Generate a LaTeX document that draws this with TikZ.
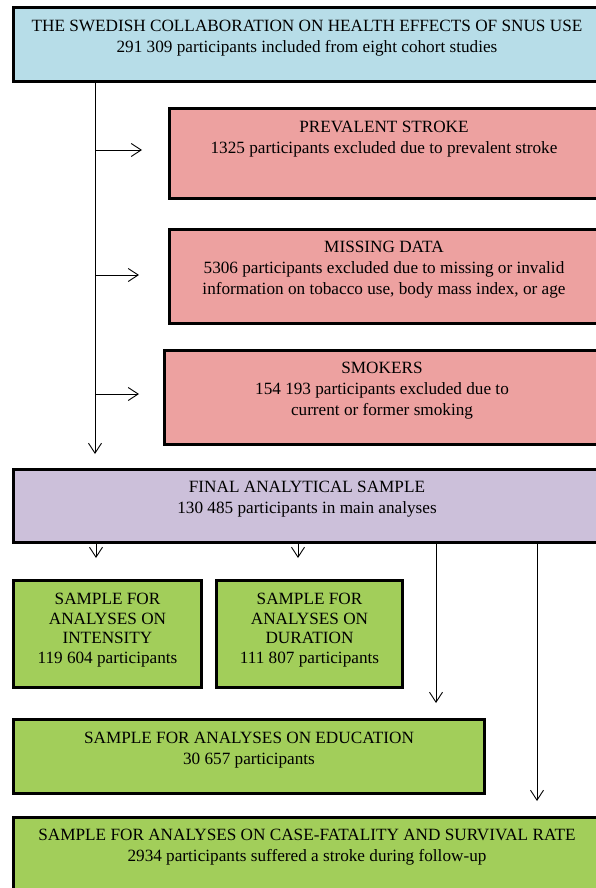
\documentclass[tikz,border=0pt]{standalone}
\usepackage{fontspec}
\setmainfont{Liberation Serif}
\usetikzlibrary{arrows.meta,positioning}
\definecolor{cblue}{HTML}{B7DDE8}
\definecolor{cpink}{HTML}{EDA1A0}
\definecolor{cpurple}{HTML}{CCC0DA}
\definecolor{cgreen}{HTML}{A2CE5A}
\tikzset{
  box/.style={draw=black, line width=3pt, inner sep=0pt, anchor=north west},
  lbl/.style={align=center, inner sep=0pt, anchor=north, font=\fontsize{17.2}{20.8}\selectfont},
  arr/.style={line width=0.9pt, -{Straight Barb[length=10pt,width=13pt]}},
}
\begin{document}
\begin{tikzpicture}[x=1pt,y=-1pt]
\useasboundingbox (0,0) rectangle (596,888);
\clip (0,0) rectangle (596,888);
\fill[white] (0,0) rectangle (596,888);

\node[box, fill=cblue, minimum width=640pt, minimum height=74pt] (top) at (12,6) {};
\node[box, fill=cpink, minimum width=480pt, minimum height=90pt] (prev) at (168,107) {};
\node[box, fill=cpink, minimum width=480pt, minimum height=94pt] (miss) at (168,228) {};
\node[box, fill=cpink, minimum width=480pt, minimum height=94pt] (smok) at (163,349) {};
\node[box, fill=cpurple, minimum width=640pt, minimum height=73pt] (final) at (12,468) {};
\node[box, fill=cgreen, minimum width=188pt, minimum height=107pt] (inten) at (12,579) {};
\node[box, fill=cgreen, minimum width=186pt, minimum height=107pt] (dura) at (215,579) {};
\node[box, fill=cgreen, minimum width=471pt, minimum height=74pt] (edu) at (12,718) {};
\node[box, fill=cgreen, minimum width=640pt, minimum height=100pt] (bot) at (12,816) {};

\node[lbl] (topt) at (top.north -| 307,0) [yshift=-14pt] {THE SWEDISH COLLABORATION ON HEALTH EFFECTS OF SNUS USE\\291 309 participants included from eight cohort studies};
\node[lbl] (prevt) at (prev.north -| 384,0) [yshift=-14pt] {PREVALENT STROKE\\1325 participants excluded due to prevalent stroke};
\node[lbl] (misst) at (miss.north -| 384,0) [yshift=-13pt] {MISSING DATA\\5306 participants excluded due to missing or invalid\\information on tobacco use, body mass index, or age};
\node[lbl] (smokt) at (smok.north -| 382,0) [yshift=-13pt] {SMOKERS\\154 193 participants excluded due to\\current or former smoking};
\node[lbl] (finalt) at (final.north -| 307,0) [yshift=-13pt] {FINAL ANALYTICAL SAMPLE\\130 485 participants in main analyses};
\node[lbl, font=\fontsize{17.2}{19.7}\selectfont] (intent) at ([yshift=-14pt]inten.north) {SAMPLE FOR\\ANALYSES ON\\INTENSITY\\119 604 participants};
\node[lbl, font=\fontsize{17.2}{19.7}\selectfont] (durat) at ([yshift=-14pt]dura.north) {SAMPLE FOR\\ANALYSES ON\\DURATION\\111 807 participants};
\node[lbl] (edut) at ([yshift=-14pt]edu.north) {SAMPLE FOR ANALYSES ON EDUCATION\\30 657 participants};
\node[lbl] (bott) at (bot.north -| 307,0) [yshift=-13pt] {SAMPLE FOR ANALYSES ON CASE-FATALITY AND SURVIVAL RATE\\2934 participants suffered a stroke during follow-up};

% main trunk
\coordinate (m) at (95,454);
\draw[arr] (top.south -| m) -- (m);
\coordinate (s1) at (142,150);
\coordinate (s2) at (139,275);
\coordinate (s3) at (139,394);
\draw[arr] (s1 -| m) -- (s1);
\draw[arr] (s2 -| m) -- (s2);
\draw[arr] (s3 -| m) -- (s3);

% from final sample
\coordinate (f1) at (96,558);
\coordinate (f1s) at (96,543);
\draw[arr] (f1s) -- (f1);
\coordinate (f2) at (298,558);
\coordinate (f2s) at (298,543);
\draw[arr] (f2s) -- (f2);
\coordinate (f3) at (436,703);
\draw[arr] (final.south -| f3) -- (f3);
\coordinate (f4) at (537,801);
\draw[arr] (final.south -| f4) -- (f4);
\end{tikzpicture}
\end{document}
